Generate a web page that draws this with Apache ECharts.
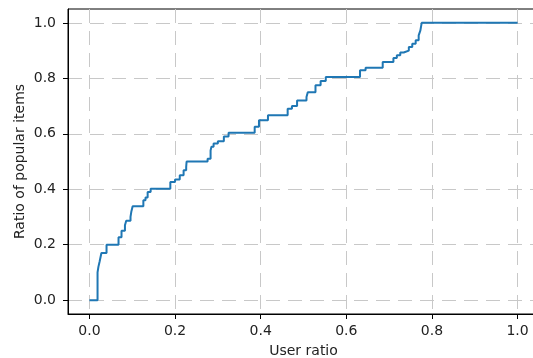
<!DOCTYPE html>
<html>
<head>
<meta charset="utf-8">
<script src="https://cdn.jsdelivr.net/npm/echarts@6/dist/echarts.min.js"></script>
<style>
  html, body { margin: 0; padding: 0; background: #fff; }
  #chart { width: 533px; height: 358px; }
</style>
</head>
<body>
<div id="chart"></div>
<script>
// 阶梯曲线的转折点 (x = 用户比例, y = 热门物品比例)
const userRatio = [
  0, 0.019, 0.021, 0.024, 0.028, 0.04,
  0.068, 0.075, 0.083, 0.086, 0.096, 0.098, 0.101,
  0.126, 0.131, 0.136, 0.143,
  0.189, 0.2, 0.211, 0.22, 0.226, 0.227,
  0.276, 0.283, 0.285, 0.29, 0.3, 0.314, 0.325,
  0.386, 0.396, 0.417,
  0.463, 0.473, 0.485,
  0.507, 0.51,
  0.528, 0.54, 0.552,
  0.632, 0.645,
  0.685,
  0.71, 0.718, 0.726, 0.734, 0.746, 0.754, 0.762, 0.769, 0.773, 0.776,
  1.0
];
const popularRatio = [
  0, 0.10, 0.12, 0.14, 0.17, 0.20,
  0.227, 0.25, 0.27, 0.286, 0.30, 0.32, 0.339,
  0.36, 0.37, 0.39, 0.402,
  0.426, 0.435, 0.45, 0.468, 0.48, 0.50,
  0.51, 0.54, 0.553, 0.565, 0.573, 0.59, 0.604,
  0.625, 0.649, 0.667,
  0.69, 0.70, 0.72,
  0.733, 0.75,
  0.775, 0.79, 0.805,
  0.829, 0.838,
  0.859,
  0.873, 0.883, 0.893, 0.90, 0.913, 0.925, 0.937, 0.955, 0.973, 1.0,
  1.0
];
const xTicks = [0, 0.2, 0.4, 0.6, 0.8, 1.0];
const yTicks = [0, 0.2, 0.4, 0.6, 0.8, 1.0];

const chart = echarts.init(document.getElementById('chart'));

const font = 'DejaVu Sans';
const gridLine = { show: true, lineStyle: { color: '#c8c8c8', width: 1, type: [14, 8] } };

const option = {
  animation: false,
  backgroundColor: '#fff',
  grid: {
    left: 68, top: 9, bottom: 44, right: -6,
    outerBoundsMode: 'none',
    show: true, borderColor: '#000', borderWidth: 1
  },
  xAxis: {
    type: 'value',
    min: -0.05,
    max: 1.05,
    name: 'User ratio',
    nameLocation: 'middle',
    nameGap: 30,
    nameMoveOverlap: false,
    nameTextStyle: { fontFamily: font, fontSize: 14, color: '#222' },
    axisLine: { show: true, onZero: false, lineStyle: { color: '#000', width: 1 } },
    axisTick: { show: true, length: 5, customValues: xTicks, lineStyle: { color: '#000' } },
    axisLabel: {
      customValues: xTicks, margin: 10,
      fontFamily: font, fontSize: 14, color: '#222',
      formatter: v => v.toFixed(1)
    },
    splitLine: gridLine
  },
  yAxis: {
    type: 'value',
    min: -0.05,
    max: 1.05,
    name: 'Ratio of popular items',
    nameLocation: 'middle',
    nameGap: 41,
    nameMoveOverlap: false,
    nameTextStyle: { fontFamily: font, fontSize: 14, color: '#222' },
    axisLine: { show: true, onZero: false, lineStyle: { color: '#000', width: 1 } },
    axisTick: { show: true, length: 5, customValues: yTicks, lineStyle: { color: '#000' } },
    axisLabel: {
      customValues: yTicks, margin: 12,
      fontFamily: font, fontSize: 14, color: '#222',
      formatter: v => v.toFixed(1)
    },
    splitLine: gridLine
  },
  series: [
    {
      type: 'line',
      step: 'end',
      showSymbol: false,
      lineStyle: { color: '#1f77b4', width: 2 },
      data: userRatio.map((x, i) => [x, popularRatio[i]])
    }
  ]
};

chart.setOption(option);
</script>
</body>
</html>
